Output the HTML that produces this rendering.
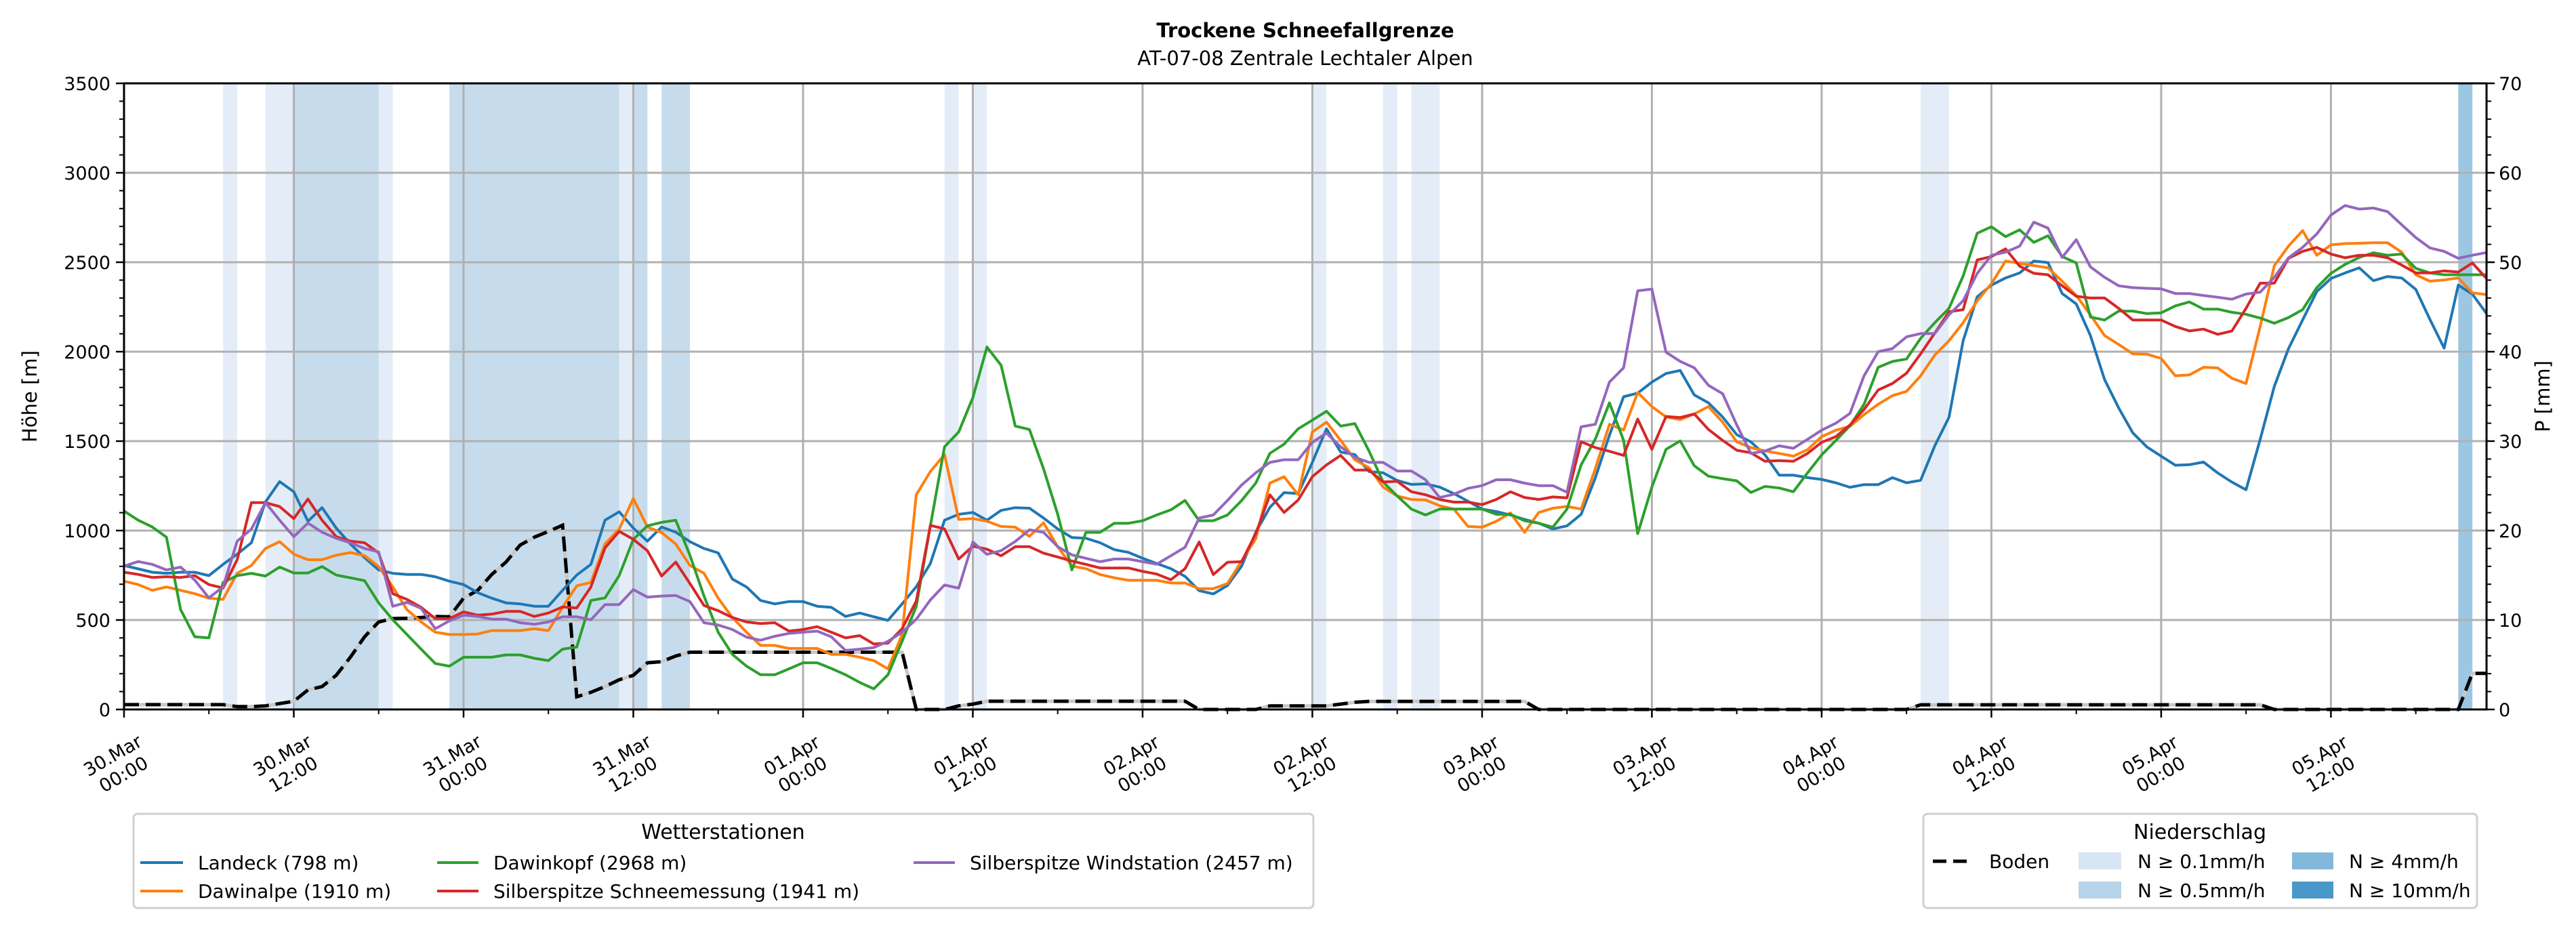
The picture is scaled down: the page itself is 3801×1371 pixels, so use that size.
<!DOCTYPE html>
<html><head><meta charset="utf-8"><style>
html,body{margin:0;padding:0;background:#fff;}
svg{display:block;font-family:"DejaVu Sans","Liberation Sans",sans-serif;}
</style></head><body>
<svg id="chart" width="3801" height="1371" viewBox="0 0 3801 1371" xmlns="http://www.w3.org/2000/svg">
<rect x="0" y="0" width="3801" height="1371" fill="#fff"/>
<g id="bands"></g><g id="grid"></g><g id="series"></g><g id="axes"></g>
<text x="1926" y="55" text-anchor="middle" font-size="29" font-weight="bold">Trockene Schneefallgrenze</text>
<text x="1926" y="96" text-anchor="middle" font-size="29">AT-07-08 Zentrale Lechtaler Alpen</text>
<text transform="translate(54,585) rotate(-90)" text-anchor="middle" font-size="29">Höhe [m]</text>
<text transform="translate(3762,585) rotate(-90)" text-anchor="middle" font-size="29">P [mm]</text>
<g>
<rect x="197" y="1201" width="1741" height="139" rx="6" fill="#fff" stroke="#d0d0d0" stroke-width="3"/>
<text x="1067" y="1238" text-anchor="middle" font-size="30">Wetterstationen</text>
<g><line x1="207" y1="1273" x2="270" y2="1273" stroke="#1f77b4" stroke-width="4"/><text x="292" y="1283" font-size="28">Landeck (798 m)</text></g>
<g><line x1="207" y1="1315" x2="270" y2="1315" stroke="#ff7f0e" stroke-width="4"/><text x="292" y="1325" font-size="28">Dawinalpe (1910 m)</text></g>
<g><line x1="645" y1="1273" x2="706" y2="1273" stroke="#2ca02c" stroke-width="4"/><text x="728" y="1283" font-size="28">Dawinkopf (2968 m)</text></g>
<g><line x1="645" y1="1315" x2="706" y2="1315" stroke="#d62728" stroke-width="4"/><text x="728" y="1325" font-size="28">Silberspitze Schneemessung (1941 m)</text></g>
<g><line x1="1348" y1="1273" x2="1409" y2="1273" stroke="#9467bd" stroke-width="4"/><text x="1431" y="1283" font-size="28">Silberspitze Windstation (2457 m)</text></g>
</g>
<g>
<rect x="2838" y="1201" width="817" height="139" rx="6" fill="#fff" stroke="#d0d0d0" stroke-width="3"/>
<text x="3246" y="1238" text-anchor="middle" font-size="30">Niederschlag</text>
<g><line x1="2852" y1="1271" x2="2906" y2="1271" stroke="#000" stroke-width="5" stroke-dasharray="20,10"/><text x="2935" y="1281" font-size="28">Boden</text></g>
<g><rect x="3067" y="1258" width="63" height="25" fill="#d6e6f4"/><text x="3154" y="1281" font-size="28">N ≥ 0.1mm/h</text></g>
<g><rect x="3067" y="1301" width="63" height="25" fill="#b7d4ea"/><text x="3154" y="1324" font-size="28">N ≥ 0.5mm/h</text></g>
<g><rect x="3382" y="1258" width="61" height="25" fill="#82b8da"/><text x="3466" y="1281" font-size="28">N ≥ 4mm/h</text></g>
<g><rect x="3382" y="1301" width="61" height="25" fill="#4a98c9"/><text x="3466" y="1324" font-size="28">N ≥ 10mm/h</text></g>
</g>
</svg>
<script>
const landeck=[805,786,767,761,767,767,748,811,868,932,1160,1274,1217,1052,1128,1014,925,849,780,761,755,755,742,717,698,653,622,596,590,577,
577,666,751,811,1058,1105,1014,941,1020,991,938,900,875,729,685,609,590,603,603,577,571,520,539,518,498,590,
686,816,1058,1091,1101,1058,1113,1128,1125,1070,1009,961,957,932,893,878,845,816,787,744,664,646,693,801,990,1130,1212,1207,1381,1569,
1439,1425,1330,1323,1280,1258,1261,1243,1207,1164,1120,1106,1087,1062,1041,1009,1026,1091,1294,1533,1748,1768,1830,1878,1895,1758,1714,1635,
1536,1496,1423,1310,1310,1296,1286,1267,1242,1257,1257,1296,1267,1281,1474,1633,2061,2307,2372,2412,2440,2507,2498,2325,2267,2090,1844,1685,
1546,1467,1416,1365,1368,1383,1322,1271,1228,1510,1807,2017,2177,2336,2409,2440,2469,2397,2420,2412,2348,2180,2020,2372,2322,2213];
const dawinalpe=[717,698,666,685,666,647,622,615,761,805,900,938,868,837,837,862,877,860,799,685,558,489,432,419,419,422,441,441,441,451,
441,571,691,710,925,1008,1179,1020,989,925,805,761,622,514,432,358,358,341,341,341,308,308,292,273,227,419,
1200,1330,1425,1062,1067,1052,1023,1019,968,1043,910,801,787,754,736,722,722,722,707,707,675,675,704,830,954,1265,1301,1200,1551,1606,
1504,1396,1352,1243,1193,1174,1171,1139,1120,1023,1019,1052,1099,990,1101,1125,1135,1120,1345,1594,1562,1772,1693,1635,1620,1652,1693,1606,
1496,1464,1445,1431,1416,1452,1525,1561,1583,1648,1706,1754,1778,1865,1981,2061,2162,2285,2380,2507,2493,2481,2469,2394,2314,2206,2090,2040,
1988,1986,1962,1865,1870,1913,1909,1851,1822,2141,2481,2590,2677,2539,2597,2604,2606,2609,2609,2556,2430,2394,2401,2412,2329,2319];
const dawinkopf=[1109,1058,1020,963,558,406,400,710,748,761,746,796,763,763,799,751,736,720,596,501,419,337,257,242,292,292,292,305,305,286,
273,337,349,609,624,748,951,1027,1046,1058,862,634,432,308,242,194,194,227,261,261,229,194,151,115,194,381,
577,1026,1468,1551,1743,2026,1924,1584,1565,1345,1091,780,990,990,1041,1041,1055,1087,1116,1168,1055,1055,1087,1168,1265,1432,1483,1569,1617,1667,
1584,1598,1446,1272,1193,1120,1087,1120,1120,1120,1120,1091,1091,1055,1041,1019,1120,1367,1511,1714,1504,983,1243,1454,1501,1362,1304,1290,
1278,1213,1247,1238,1217,1322,1423,1503,1586,1706,1913,1945,1959,2075,2162,2242,2423,2662,2698,2643,2681,2611,2648,2532,2496,2194,2177,2227,
2227,2213,2217,2256,2278,2238,2238,2220,2209,2188,2159,2191,2235,2358,2438,2488,2527,2553,2539,2546,2466,2440,2430,2430,2430,2430];
const silberSchnee=[767,755,738,742,738,748,698,679,837,1156,1156,1134,1067,1176,1058,966,941,932,875,647,615,571,508,508,546,527,533,548,548,520,
539,573,567,685,903,995,951,887,746,824,704,581,552,514,489,480,485,438,447,463,432,400,413,366,371,451,
606,1029,1009,841,913,896,859,910,910,874,852,830,811,791,791,791,772,757,725,787,936,754,823,826,983,1200,1101,1171,1301,1367,
1420,1338,1338,1272,1275,1217,1200,1174,1159,1159,1145,1174,1217,1185,1174,1188,1183,1497,1464,1443,1420,1623,1454,1638,1632,1652,1565,1504,
1449,1435,1387,1391,1387,1431,1493,1525,1590,1677,1786,1822,1880,1988,2104,2223,2235,2513,2532,2575,2478,2438,2430,2368,2310,2300,2300,2242,
2177,2177,2177,2141,2116,2126,2097,2116,2242,2383,2383,2522,2561,2583,2546,2525,2539,2539,2525,2484,2440,2440,2452,2445,2496,2409];
const silberWind=[801,827,811,780,796,723,624,685,941,1008,1156,1058,966,1042,991,957,932,900,881,577,599,565,451,495,527,520,505,505,485,476,
489,518,518,501,586,586,670,628,634,637,603,485,472,447,404,387,409,425,432,438,406,330,337,346,381,432,
504,612,696,678,936,867,888,939,1004,990,910,864,845,826,841,841,826,812,859,907,1070,1087,1168,1255,1323,1381,1396,1396,1493,1545,
1468,1410,1381,1381,1333,1333,1284,1185,1203,1236,1251,1284,1284,1265,1251,1251,1214,1580,1594,1830,1910,2340,2350,1997,1946,1910,1812,1765,
1590,1431,1445,1474,1460,1510,1561,1600,1655,1865,2000,2017,2083,2101,2101,2206,2285,2438,2539,2556,2590,2724,2691,2527,2626,2474,2416,2368,
2358,2354,2351,2325,2325,2314,2304,2293,2322,2333,2416,2525,2583,2658,2764,2817,2797,2803,2783,2710,2638,2580,2561,2522,2539,2554];
const boden=[27,27,27,27,27,27,27,27,16,16,20,33,46,109,128,191,292,406,489,508,510,514,520,518,622,666,755,824,919,963,
995,1030,71,96,128,166,191,261,267,299,320,320,320,320,320,320,320,320,320,320,320,320,320,320,320,320,
0,0,0,20,30,46,46,46,46,46,46,46,46,46,46,46,46,46,46,46,0,0,0,0,0,20,20,20,20,20,
30,40,45,45,45,45,45,45,45,45,45,45,45,45,0,0,0,0,0,0,0,0,0,0,0,0,0,0,
0,0,0,0,0,0,0,0,0,0,0,0,0,26,26,26,26,26,26,26,26,26,26,26,26,26,26,26,
26,26,26,26,26,26,26,26,26,26,0,0,0,0,0,0,0,0,0,0,0,0,0,0,202,202];
const bandStart=[7,10,12,18,23,35,36,38,58,60,84,89,91,127,165];
const bandEnd=[8,12,18,19,35,36,37,40,59,61,85,90,93,129,166];
const bandLevel=[1,1,2,1,2,1,2,2,1,1,1,1,1,1,3];
const yTicks=[0,500,1000,1500,2000,2500,3000,3500];
const y2Ticks=[0,10,20,30,40,50,60,70];
const xTickDates=["30.Mar","30.Mar","31.Mar","31.Mar","01.Apr","01.Apr","02.Apr","02.Apr","03.Apr","03.Apr","04.Apr","04.Apr","05.Apr","05.Apr"];
const xTickTimes=["00:00","12:00","00:00","12:00","00:00","12:00","00:00","12:00","00:00","12:00","00:00","12:00","00:00","12:00"];

const L=183,R=3669,T=123,B=1047,NH=167,YMAX=3500,PMAX=70;
const X=h=>L+h*(R-L)/NH;
const Y=v=>B-v*(B-T)/YMAX;
const NS="http://www.w3.org/2000/svg";
function mk(tag,attrs,parent){const e=document.createElementNS(NS,tag);for(const k in attrs)e.setAttribute(k,attrs[k]);parent.appendChild(e);return e;}
const gB=document.getElementById('bands'),gG=document.getElementById('grid'),gS=document.getElementById('series'),gA=document.getElementById('axes');
const bandCol=["","#e4edf7","#c6dcec","#9cc7e3","#4a98c9"];
bandStart.forEach((s,i)=>{
  const r=mk('rect',{x:X(s),y:T,width:X(bandEnd[i])-X(s),height:B-T,fill:bandCol[bandLevel[i]]},gB);
  
  
});
yTicks.forEach(v=>{
  if(v>0&&v<YMAX){const l=mk('line',{x1:L,x2:R,y1:Y(v),y2:Y(v),stroke:'#b0b0b0','stroke-width':3},gG);
  
  }
  mk('line',{x1:L-12,x2:L,y1:Y(v),y2:Y(v),stroke:'#000','stroke-width':2.5},gA);
  const t=mk('text',{x:L-20,y:Y(v)+10,'text-anchor':'end','font-size':27},gA);t.textContent=v;
  
  
});
for(let v=100;v<YMAX;v+=100){if(v%500)mk('line',{x1:L-7,x2:L,y1:Y(v),y2:Y(v),stroke:'#000','stroke-width':2},gA);}
y2Ticks.forEach(p=>{
  const yy=B-p*(B-T)/PMAX;
  mk('line',{x1:R,x2:R+12,y1:yy,y2:yy,stroke:'#000','stroke-width':2.5},gA);
  const t=mk('text',{x:R+18,y:yy+10,'font-size':27},gA);t.textContent=p;
  
  
});
for(let p=2;p<PMAX;p+=2){if(p%10){const yy=B-p*(B-T)/PMAX;mk('line',{x1:R,x2:R+7,y1:yy,y2:yy,stroke:'#000','stroke-width':2},gA);}}
xTickDates.forEach((d,i)=>{
  const h=i*12,x=X(h);
  if(h>0){const l=mk('line',{x1:x,x2:x,y1:T,y2:B,stroke:'#b0b0b0','stroke-width':3},gG);
  
  }
  mk('line',{x1:x,x2:x,y1:B,y2:B+12,stroke:'#000','stroke-width':2.5},gA);
  const t=mk('text',{transform:`translate(${x-4},${B+90}) rotate(-30)`,'text-anchor':'middle','font-size':27},gA);
  
  
  const a=mk('tspan',{x:0,y:-16},t);a.textContent=d;
  const b=mk('tspan',{x:0,y:16},t);b.textContent=xTickTimes[i];
});
for(let h=6;h<NH;h+=12)mk('line',{x1:X(h),x2:X(h),y1:B,y2:B+7,stroke:'#000','stroke-width':2},gA);
function pts(arr){return arr.map((v,i)=>X(i).toFixed(1)+','+Y(v).toFixed(1)).join(' ');}
const bg=mk('polyline',{points:pts(boden),fill:'none',stroke:'#c8c8c8','stroke-width':5},gS);


const bd=mk('polyline',{points:pts(boden),fill:'none',stroke:'#000','stroke-width':5,'stroke-dasharray':'22,10'},gS);


[[landeck,'#1f77b4','landeck-line'],[dawinalpe,'#ff7f0e','dawinalpe-line'],[dawinkopf,'#2ca02c','dawinkopf-line'],[silberSchnee,'#d62728','silberspitze-schnee-line'],[silberWind,'#9467bd','silberspitze-wind-line']].forEach(s=>{
  const p=mk('polyline',{points:pts(s[0]),fill:'none',stroke:s[1],'stroke-width':4,'stroke-linejoin':'round'},gS);
  
  
});
const fr=mk('rect',{x:L,y:T,width:R-L,height:B-T,fill:'none',stroke:'#000','stroke-width':3},gA);


</script>
</body></html>
